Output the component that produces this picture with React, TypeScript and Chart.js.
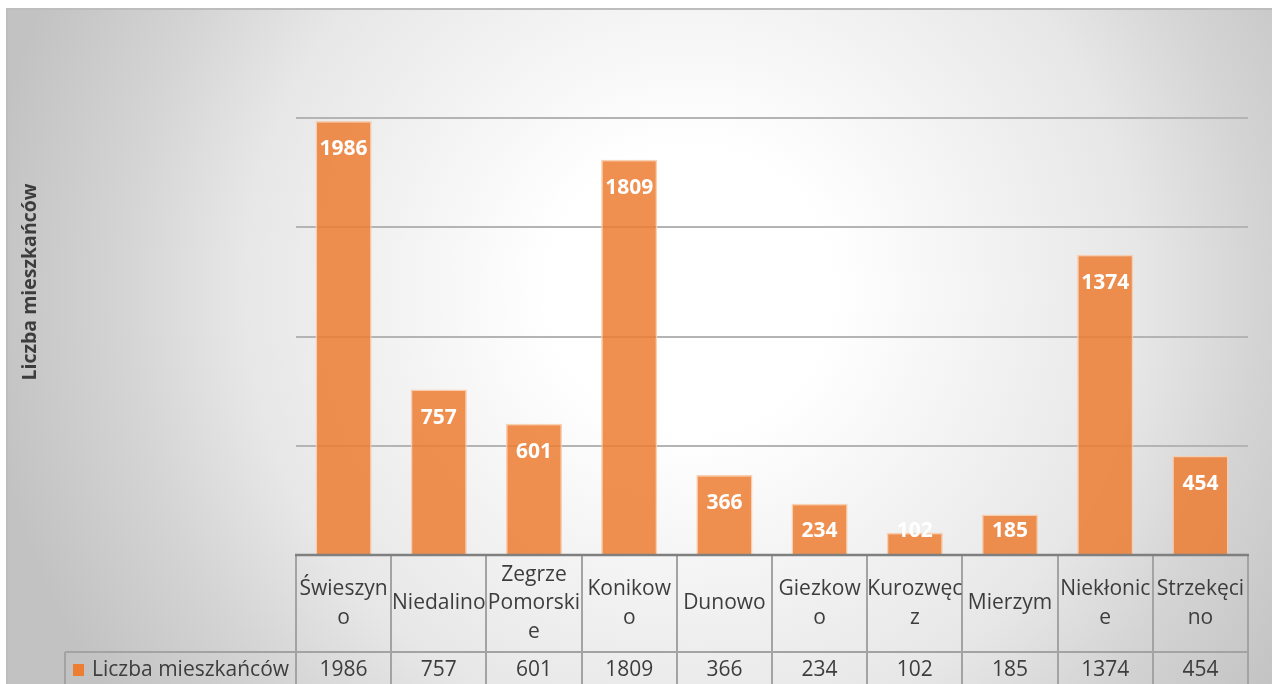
import React, { useEffect, useRef } from "react";
import { Chart, registerables } from "chart.js";

Chart.register(...registerables);

const categories = [
  "Świeszyno",
  "Niedalino",
  "Zegrze Pomorskie",
  "Konikowo",
  "Dunowo",
  "Giezkowo",
  "Kurozwęcz",
  "Mierzym",
  "Niekłonice",
  "Strzekęcino",
];
// category labels as wrapped in the data table
const categoryLines = [
  ["Świeszyn", "o"],
  ["Niedalino"],
  ["Zegrze", "Pomorski", "e"],
  ["Konikow", "o"],
  ["Dunowo"],
  ["Giezkow", "o"],
  ["Kurozwęc", "z"],
  ["Mierzym"],
  ["Niekłonic", "e"],
  ["Strzekęci", "no"],
];
const seriesName = "Liczba mieszkańców";
const values = [1986, 757, 601, 1809, 366, 234, 102, 185, 1374, 454];
const yMin = 0;
const yMax = 2000;
const yStep = 500;
const axisTitle = "Liczba mieszkańców";

const FONT = '"Open Sans", "Noto Sans", sans-serif';
const TEXT = "#3d3d3d";
const LINE = "#a3a3a3";

const bgPlugin = {
  id: "bg",
  beforeDraw(chart: any) {
    const ctx = chart.ctx as CanvasRenderingContext2D;
    const W = chart.width;
    const H = chart.height;
    ctx.save();
    ctx.fillStyle = "#ffffff";
    ctx.fillRect(0, 0, W, H);
    const g = ctx.createRadialGradient(690, 290, 0, 690, 290, 710);
    g.addColorStop(0, "#ffffff");
    g.addColorStop(0.2, "#ffffff");
    g.addColorStop(0.63, "#e7e7e7");
    g.addColorStop(0.8, "#d4d4d4");
    g.addColorStop(1, "#c2c2c2");
    ctx.fillStyle = g;
    ctx.fillRect(7, 9, W - 7, H - 9);
    ctx.strokeStyle = "#bdbdbd";
    ctx.lineWidth = 2;
    ctx.beginPath();
    ctx.moveTo(7, H);
    ctx.lineTo(7, 9);
    ctx.lineTo(W, 9);
    ctx.stroke();
    ctx.restore();
  },
};

const labelPlugin = {
  id: "labels",
  afterDatasetsDraw(chart: any) {
    const ctx = chart.ctx as CanvasRenderingContext2D;
    const meta = chart.getDatasetMeta(0);
    ctx.save();
    ctx.fillStyle = "#ffffff";
    ctx.font = `bold 21px ${FONT}`;
    ctx.textAlign = "center";
    ctx.textBaseline = "middle";
    meta.data.forEach((el: any, i: number) => {
      const y = Math.min(el.y + 28, el.base - 23);
      ctx.fillText(String(values[i]), el.x, y);
    });
    ctx.restore();
  },
};

const tablePlugin = {
  id: "table",
  afterDraw(chart: any) {
    const ctx = chart.ctx as CanvasRenderingContext2D;
    const area = chart.chartArea;
    const xs = chart.scales.x;
    const n = categories.length;
    const colW = (area.right - area.left) / n;
    const top = area.bottom;
    const rowSep = top + 97;
    const bottom = chart.height + 5;
    const legendLeft = 65;

    ctx.save();
    ctx.strokeStyle = LINE;
    ctx.lineWidth = 2;
    ctx.beginPath();
    for (let i = 0; i <= n; i++) {
      const x = Math.round(area.left + i * colW);
      ctx.moveTo(x, top);
      ctx.lineTo(x, bottom);
    }
    ctx.moveTo(legendLeft, rowSep);
    ctx.lineTo(area.right, rowSep);
    ctx.moveTo(legendLeft, rowSep);
    ctx.lineTo(legendLeft, bottom);
    ctx.stroke();

    // axis baseline
    ctx.strokeStyle = "#7f7f7f";
    ctx.lineWidth = 2.5;
    ctx.beginPath();
    ctx.moveTo(area.left - 1, top);
    ctx.lineTo(area.right + 1, top);
    ctx.stroke();

    // category labels
    ctx.fillStyle = TEXT;
    ctx.font = `21px ${FONT}`;
    ctx.textAlign = "center";
    ctx.textBaseline = "middle";
    const lh = 28.5;
    const midHeader = (top + rowSep) / 2;
    categoryLines.forEach((lines, i) => {
      const cx = xs.getPixelForValue(i);
      const y0 = midHeader - ((lines.length - 1) * lh) / 2;
      lines.forEach((t, k) => ctx.fillText(t, cx, y0 + k * lh));
    });

    // values row
    const valY = rowSep + 18;
    values.forEach((v, i) => {
      ctx.fillText(String(v), xs.getPixelForValue(i), valY);
    });

    // legend key
    ctx.fillStyle = "#ED7D31";
    ctx.fillRect(73, valY - 6, 11, 12);
    ctx.fillStyle = TEXT;
    ctx.textAlign = "left";
    ctx.fillText(seriesName, 92, valY);

    // y axis title
    ctx.save();
    ctx.translate(30, 282);
    ctx.rotate(-Math.PI / 2);
    ctx.textAlign = "center";
    ctx.font = `bold 19.5px ${FONT}`;
    ctx.fillText(axisTitle, 0, 0);
    ctx.restore();

    ctx.restore();
  },
};

export default function App() {
  const ref = useRef<HTMLCanvasElement | null>(null);

  useEffect(() => {
    if (!ref.current) return;
    const chart = new Chart(ref.current, {
      type: "bar",
      data: {
        labels: categories,
        datasets: [
          {
            label: seriesName,
            data: values,
            backgroundColor: "rgba(237,125,49,0.85)",
            borderColor: "rgba(248,203,170,0.9)",
            borderWidth: 1.5,
            barPercentage: 0.59,
            categoryPercentage: 1,
          },
        ],
      },
      options: {
        responsive: false,
        animation: false,
        devicePixelRatio: 1,
        layout: { padding: { left: 296, right: 24, top: 118, bottom: 129 } },
        plugins: {
          legend: { display: false },
          tooltip: { enabled: false },
          title: { display: false },
        },
        scales: {
          x: {
            display: true,
            grid: { display: false, drawTicks: false },
            ticks: { display: false },
            border: { display: false },
          },
          y: {
            min: yMin,
            max: yMax,
            ticks: { display: false, stepSize: yStep },
            grid: {
              drawTicks: false,
              color: "#b4b4b4",
              lineWidth: 2,
            },
            border: { display: false },
          },
        },
      },
      plugins: [bgPlugin, labelPlugin, tablePlugin],
    });
    const fonts: any = (document as any).fonts;
    if (fonts && fonts.load) {
      Promise.all([
        fonts.load(`21px "Open Sans"`),
        fonts.load(`bold 21px "Open Sans"`),
      ]).then(() => chart.draw()).catch(() => {});
    }
    return () => chart.destroy();
  }, []);

  return (
    <div style={{ position: "fixed", left: 0, top: 0, width: 1272, height: 684 }}>
      <canvas ref={ref} width={1272} height={684} style={{ width: 1272, height: 684, display: "block" }} />
    </div>
  );
}
